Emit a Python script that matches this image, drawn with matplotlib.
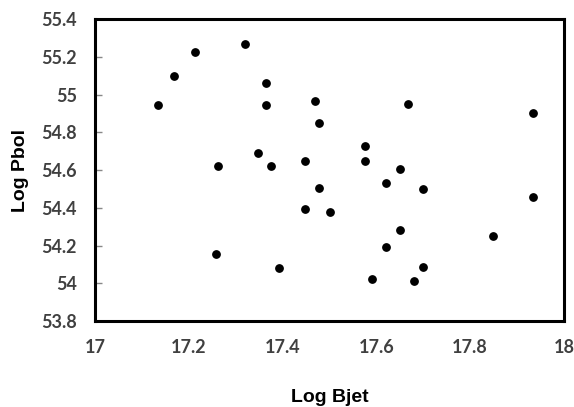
import matplotlib.pyplot as plt

# data
log_bjet = [17.134, 17.168, 17.213, 17.319, 17.365, 17.365, 17.263, 17.348, 17.375,
            17.469, 17.478, 17.667, 17.935, 17.576, 17.576, 17.448, 17.650, 17.620,
            17.478, 17.699, 17.935, 17.448, 17.502, 17.650, 17.620, 17.849, 17.699,
            17.591, 17.681, 17.393, 17.257]
log_pbol = [54.943, 55.098, 55.227, 55.269, 55.063, 54.943, 54.621, 54.692, 54.622,
            54.966, 54.849, 54.951, 54.900, 54.729, 54.649, 54.649, 54.607, 54.529,
            54.506, 54.501, 54.459, 54.393, 54.379, 54.281, 54.194, 54.252, 54.088,
            54.022, 54.010, 54.081, 54.153]

x_ticks = [17, 17.2, 17.4, 17.6, 17.8, 18]
x_labels = ['17', '17.2', '17.4', '17.6', '17.8', '18']
y_ticks = [53.8, 54, 54.2, 54.4, 54.6, 54.8, 55, 55.2, 55.4]
y_labels = ['53.8', '54', '54.2', '54.4', '54.6', '54.8', '55', '55.2', '55.4']

fig = plt.figure(figsize=(5.74, 4.07), dpi=100)
ax = fig.add_axes([0.1655, 0.2113, 0.817, 0.742])

ax.scatter(log_bjet, log_pbol, s=28, color='black', zorder=3)

ax.set_xlim(17, 18)
ax.set_ylim(53.8, 55.4)
ax.set_xticks(x_ticks)
ax.set_xticklabels(x_labels)
ax.set_yticks(y_ticks)
ax.set_yticklabels(y_labels)

for s in ax.spines.values():
    s.set_linewidth(2.2)
    s.set_color('black')

ax.tick_params(axis='x', length=0, pad=13)
ax.tick_params(axis='y', direction='in', length=5, width=1, color='#888888', pad=13)
for lbl in ax.get_xticklabels() + ax.get_yticklabels():
    lbl.set_fontfamily('Lato')
    lbl.set_fontweight('bold')
    lbl.set_fontsize(13)
    lbl.set_color('#404040')

ax.set_xlabel('Log Bjet', fontfamily='Liberation Sans', fontweight='bold', fontsize=14, labelpad=24)
ax.set_ylabel('Log Pbol', fontfamily='Liberation Sans', fontweight='bold', fontsize=14, labelpad=9)

fig.savefig('out.png', dpi=100)
